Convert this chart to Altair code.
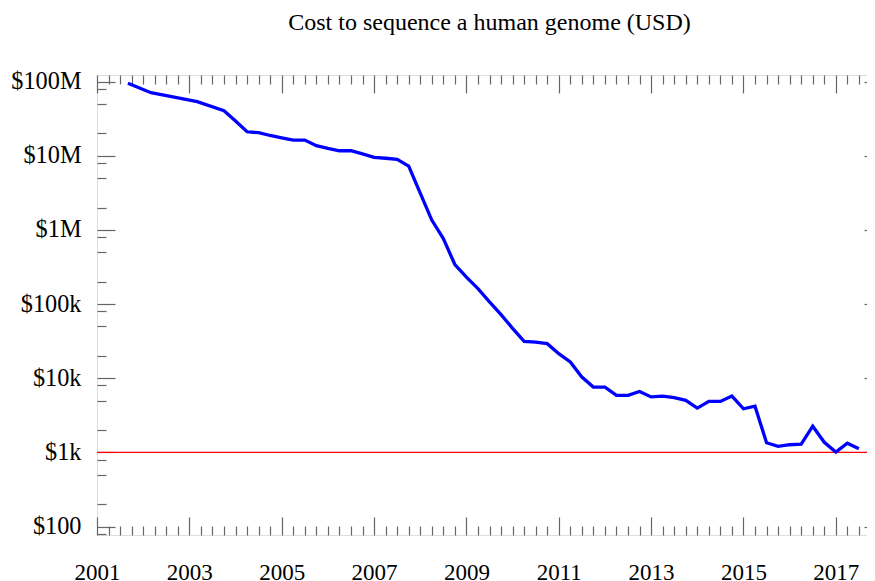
import altair as alt
import pandas as pd

# ---- data ----
years = [2001.67, 2002.17, 2002.67, 2003.17, 2003.75, 2004.0, 2004.25, 2004.5, 2004.75,
         2005.0, 2005.25, 2005.5, 2005.75, 2006.0, 2006.25, 2006.5, 2006.75, 2007.0,
         2007.25, 2007.5, 2007.75, 2008.0, 2008.25, 2008.5, 2008.75, 2009.0, 2009.25,
         2009.5, 2009.75, 2010.0, 2010.25, 2010.5, 2010.75, 2011.0, 2011.25, 2011.5,
         2011.75, 2012.0, 2012.25, 2012.5, 2012.75, 2013.0, 2013.25, 2013.5, 2013.75,
         2014.0, 2014.25, 2014.5, 2014.75, 2015.0, 2015.25, 2015.5, 2015.75, 2016.0,
         2016.25, 2016.5, 2016.75, 2017.0, 2017.25, 2017.5]
costs = [95.1e6, 71.0e6, 61.8e6, 53.7e6, 40.6e6, 29.5e6, 21.1e6, 20.5e6, 18.8e6,
         17.5e6, 16.3e6, 16.3e6, 13.7e6, 12.6e6, 11.7e6, 11.7e6, 10.6e6, 9.53e6,
         9.27e6, 8.98e6, 7.27e6, 3.14e6, 1.36e6, 767e3, 342e3, 231e3, 162e3,
         107e3, 72.3e3, 47.2e3, 31.5e3, 30.8e3, 29.3e3, 21.5e3, 16.6e3, 10.4e3,
         7.6e3, 7.6e3, 5.88e3, 5.88e3, 6.65e3, 5.61e3, 5.75e3, 5.47e3, 5.03e3,
         3.96e3, 4.88e3, 4.88e3, 5.75e3, 3.88e3, 4.21e3, 1.35e3, 1.21e3, 1.27e3,
         1.29e3, 2.26e3, 1.37e3, 1.01e3, 1.33e3, 1.12e3]
threshold = [1000]

title_text = "Cost to sequence a human genome (USD)"
x_major = [2001, 2003, 2005, 2007, 2009, 2011, 2013, 2015, 2017]
x_minor = [y + q for y in range(2001, 2018) for q in (0.0, 0.25, 0.5, 0.75)
           if not (q == 0.0 and y % 2 == 1)]
y_major = [100, 1000, 10000, 100000, 1000000, 10000000, 100000000]
y_labels = ["$100", "$1k", "$10k", "$100k", "$1M", "$10M", "$100M"]
y_minor = [80, 200, 500, 800, 2000, 5000, 8000, 20000, 50000, 80000,
           200000, 500000, 800000, 2e6, 5e6, 8e6, 2e7, 5e7, 8e7]

x_domain = [2001, 2018]
y_domain = [77, 1.23e8]

# ---- layout / style ----
W, H = 785, 460
FONT = "Liberation Serif"
TICK_COLOR = "#666666"
MAJ, MIN = 18, 9

df = pd.DataFrame({"year": years, "cost": costs})
thr = pd.DataFrame({"v": threshold})

label_expr = " : ".join(
    f"datum.value == {v} ? '{l}'" for v, l in zip(y_major, y_labels)
) + " : ''"

xs = alt.Scale(domain=x_domain, nice=False, zero=False)
ys = alt.Scale(type="log", domain=y_domain, nice=False)


def tick_axis(orient, offset, values, size):
    return alt.Axis(orient=orient, offset=offset, values=values, tickSize=size,
                    labels=False, domain=False, grid=False, title=None,
                    tickColor=TICK_COLOR, tickWidth=1.2)


base = alt.Chart(df)

line = base.mark_line(color="#0000ff", strokeWidth=3.3).encode(
    x=alt.X("year:Q", scale=xs,
            axis=alt.Axis(orient="bottom", values=x_major, format="d", ticks=False,
                          domain=False, grid=False, title=None, labelFont=FONT,
                          labelFontSize=23, labelColor="black", labelPadding=26,
                          labelFlush=False, labelOverlap=False)),
    y=alt.Y("cost:Q", scale=ys,
            axis=alt.Axis(orient="left", values=y_major, labelExpr=label_expr,
                          ticks=False, domain=False, grid=False, title=None,
                          labelFont=FONT, labelFontSize=24.3, labelColor="black",
                          labelPadding=16, labelOverlap=False)),
)

tick_layers = []
specs = [
    ("top", -H, x_major, MAJ, "right", -W, y_major, MAJ),
    ("top", -H, x_minor, MIN, "right", -W, y_minor, MIN),
    ("bottom", -H, x_major, MAJ, "left", -W, y_major, MAJ),
    ("bottom", -H, x_minor, MIN, "left", -W, y_minor, MIN),
]
for xo, xoff, xv, xsz, yo, yoff, yv, ysz in specs:
    tick_layers.append(
        base.mark_point(opacity=0).encode(
            x=alt.X("year:Q", scale=xs, axis=tick_axis(xo, xoff, xv, xsz)),
            y=alt.Y("cost:Q", scale=ys, axis=tick_axis(yo, yoff, yv, ysz)),
        )
    )

rule = alt.Chart(thr).mark_rule(color="#ff0000", strokeWidth=1.2).encode(
    y=alt.Y("v:Q", scale=ys, axis=None)
)

chart = alt.layer(rule, line, *tick_layers).resolve_axis(
    x="independent", y="independent"
).properties(
    width=W, height=H,
    title=alt.TitleParams(title_text, font=FONT, fontSize=24, fontWeight="normal",
                          color="black", anchor="middle", offset=35),
    autosize=alt.AutoSizeParams(type="none"),
    padding={"left": 89, "top": 67, "right": -15, "bottom": 46},
).configure_view(
    stroke="#333333", strokeWidth=1.5
).configure(background="white")

chart.save("out.html", embed_options={"renderer": "svg", "actions": False})
